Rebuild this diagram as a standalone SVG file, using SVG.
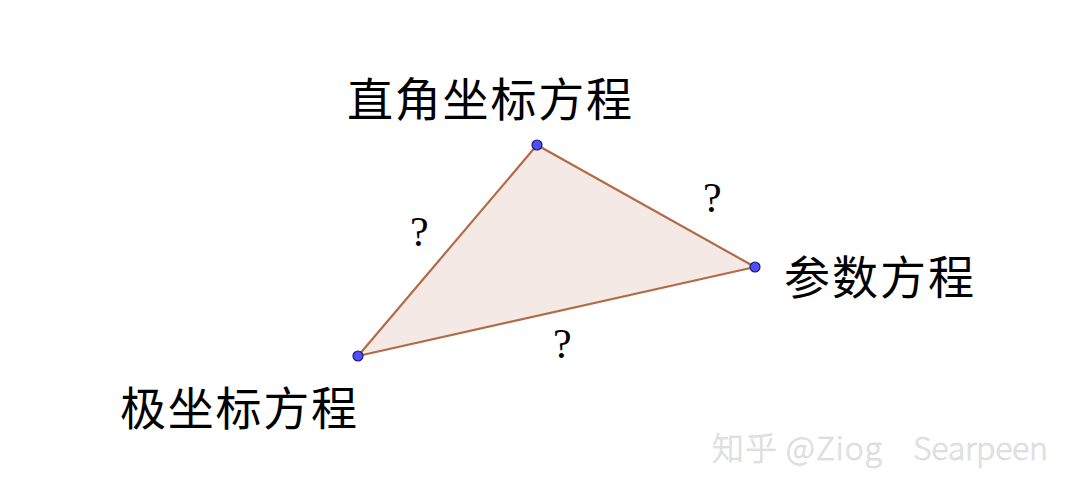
<svg xmlns="http://www.w3.org/2000/svg" width="1077" height="497" viewBox="0 0 1077 497">
<style>
.lbl{font-family:"Noto Sans CJK SC","Noto Sans CJK JP",sans-serif;font-size:46px;fill:#000;}
.q{font-family:"Liberation Serif",serif;font-size:42px;fill:#000;}
.pt{fill:#4f4fff;stroke:#1a1a66;stroke-width:1.2;}
.wm{font-family:"Noto Sans CJK SC","Liberation Sans",sans-serif;font-size:32px;font-weight:300;fill:#e6e6e6;stroke:#d2d2d2;stroke-width:0.5;}
</style>
<rect width="1077" height="497" fill="#fff"/>
<g id="connectors">
<polygon points="537,145 755,267 358,356" fill="#f4e9e4" stroke="#b36b47" stroke-width="2.2" stroke-linejoin="round"/>
</g>
<g id="node-rect"><circle class="pt" cx="537" cy="145" r="5"/><text class="lbl" x="347" y="116" textLength="285">直角坐标方程</text></g>
<g id="node-param"><circle class="pt" cx="755" cy="267" r="5"/><text class="lbl" x="784" y="294" textLength="190">参数方程</text></g>
<g id="node-polar"><circle class="pt" cx="358" cy="356" r="5"/><text class="lbl" x="120" y="425" textLength="237">极坐标方程</text></g>
<g id="labels">
<text class="q" x="410" y="246">?</text>
<text class="q" x="703" y="212">?</text>
<text class="q" x="553" y="358">?</text>
</g>
<text class="wm" x="712" y="460" textLength="170">知乎 @Ziog</text>
<text class="wm" x="913" y="460" textLength="135">Searpeen</text>
</svg>
